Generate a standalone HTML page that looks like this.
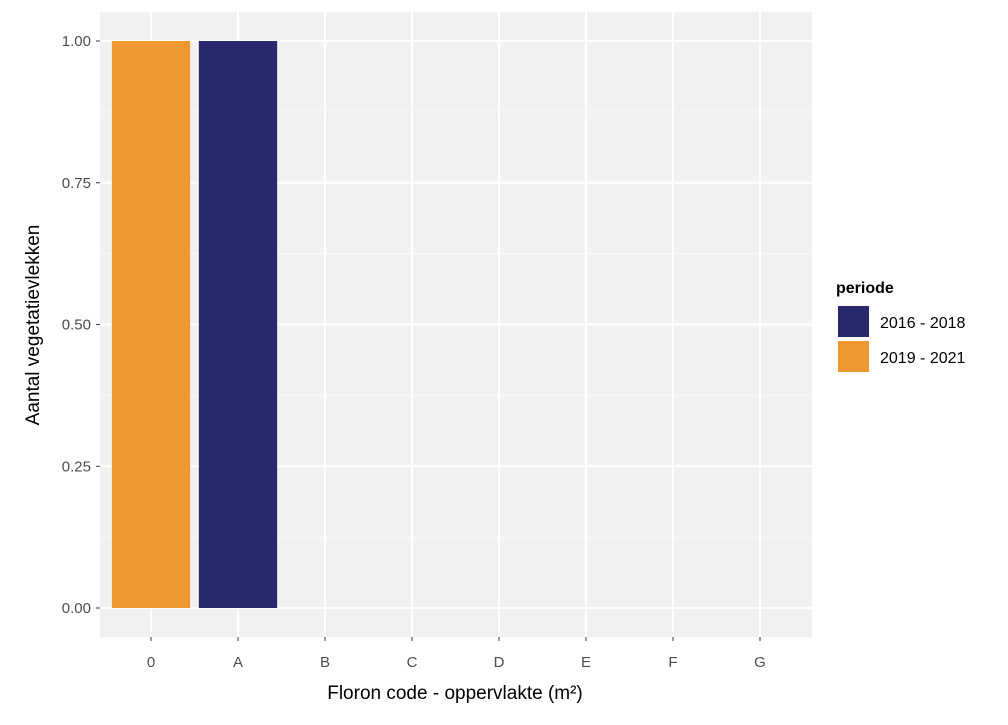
<!DOCTYPE html>
<html><head><meta charset="utf-8"><style>
body{margin:0;background:#fff;font-family:"Liberation Sans",sans-serif;}
</style></head><body>
<svg id="chart" width="1008" height="720" xmlns="http://www.w3.org/2000/svg" font-family="Liberation Sans, sans-serif">
<rect x="0" y="0" width="1008" height="720" fill="#fff"/>
<g id="plot"></g>
<text x="455" y="699" font-size="19" text-anchor="middle" fill="#000">Floron code - oppervlakte (m²)</text>
<text transform="translate(39,325) rotate(-90)" font-size="19" text-anchor="middle" fill="#000">Aantal vegetatievlekken</text>
<g>
<text x="836" y="293" font-size="16" font-weight="bold">periode</text>
<g>
<rect x="837" y="305" width="33" height="33" fill="#fff"/>
<rect x="838" y="306" width="31" height="31" fill="#29296d"/>
<text x="880" y="328" font-size="16">2016 - 2018</text></g>
<g>
<rect x="837" y="340" width="33" height="33" fill="#fff"/>
<rect x="838" y="341" width="31" height="31" fill="#ef9831"/>
<text x="880" y="363" font-size="16">2019 - 2021</text></g>
</g>
</svg>
<script>
const categories=["0","A","B","C","D","E","F","G"];
const series2016=[0,1,0,0,0,0,0,0];
const series2019=[1,0,0,0,0,0,0,0];
const yTicks=[0,0.25,0.5,0.75,1];
const yTickLabels=["0.00","0.25","0.50","0.75","1.00"];
const NS="http://www.w3.org/2000/svg";
const px0=100,px1=812,py0=12,py1=637;
const step=87,x0=151;
function xs(i){return x0+i*step;}
function ys(v){return 608-v*567;}
const g=document.getElementById('plot');
function mk(t,a){const e=document.createElementNS(NS,t);for(const k in a)e.setAttribute(k,a[k]);g.appendChild(e);return e;}
let r=mk('rect',{x:px0,y:py0,width:px1-px0,height:py1-py0,fill:'#f1f1f1'});


for(let i=0;i<yTicks.length-1;i++){const v=(yTicks[i]+yTicks[i+1])/2;
 let l=mk('line',{x1:px0,x2:px1,y1:ys(v),y2:ys(v),stroke:'#fafafa','stroke-width':1});
 
 }
yTicks.forEach((v,i)=>{
 let l=mk('line',{x1:px0,x2:px1,y1:ys(v),y2:ys(v),stroke:'#fff','stroke-width':2});
 
 
 let t=mk('line',{x1:96,x2:100,y1:ys(v),y2:ys(v),stroke:'#333','stroke-width':1});
 
 
 let tx=mk('text',{x:91,y:ys(v)+5,'font-size':15,'text-anchor':'end',fill:'#4d4d4d'});
 tx.textContent=yTickLabels[i];
 
 
});
categories.forEach((c,i)=>{
 let l=mk('line',{x1:xs(i),x2:xs(i),y1:py0,y2:py1,stroke:'#fff','stroke-width':2});
 
 
 let t=mk('line',{x1:xs(i),x2:xs(i),y1:py1,y2:py1+4,stroke:'#333','stroke-width':1});
 
 
 let tx=mk('text',{x:xs(i),y:667,'font-size':15,'text-anchor':'middle',fill:'#4d4d4d'});
 tx.textContent=c;
 
 
});
const bw=step*0.9;
categories.forEach((c,i)=>{
 [[series2016,'#29296d','2016'],[series2019,'#ef9831','2019']].forEach(([s,col,n])=>{
  if(s[i]>0){
   let b=mk('rect',{x:xs(i)-bw/2,y:ys(s[i]),width:bw,height:ys(0)-ys(s[i]),fill:col});
   
   
  }
 });
});
</script>
</body></html>
